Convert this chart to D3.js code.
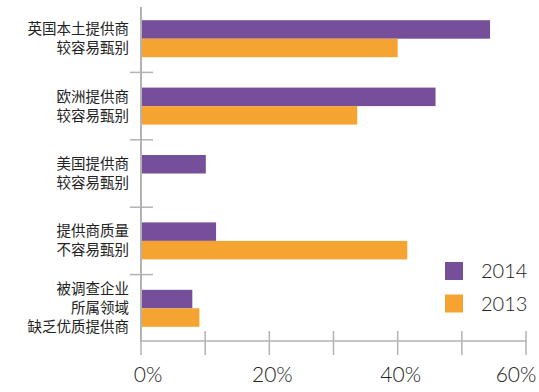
<!DOCTYPE html>
<html>
<head>
<meta charset="utf-8">
<script src="https://cdn.jsdelivr.net/npm/d3@7"></script>
<style>
  body { margin: 0; background: #fff; }
  .cat { font-family: "Noto Sans CJK SC", sans-serif; font-size: 14.5px; fill: #222; }
  .num { font-family: "Lato", "DejaVu Sans", sans-serif; font-weight: 300; fill: #222; }
</style>
</head>
<body>
<div id="chart"></div>
<script>
// chart data
const categories = [
  ["英国本土提供商", "较容易甄别"],
  ["欧洲提供商", "较容易甄别"],
  ["美国提供商", "较容易甄别"],
  ["提供商质量", "不容易甄别"],
  ["被调查企业", "所属领域", "缺乏优质提供商"]
];
const series = ["2014", "2013"];
const values2014 = [54.4, 45.9, 10.1, 11.7, 8.0];
const values2013 = [40.0, 33.7, 0, 41.5, 9.1];
const xTicks = [0, 10, 20, 30, 40, 50, 60];
const xLabels = [0, 20, 40, 60];

const svgWidth = 539;
const svgHeight = 392;
const colors = { "2014": "#764f9b", "2013": "#f5a432" };

const svg = d3.select("#chart")
  .append("svg")
  .attr("width", svgWidth)
  .attr("height", svgHeight);

const x = d3.scaleLinear().domain([0, 60]).range([141, 526]);

const y = d3.scaleBand()
  .domain(d3.range(categories.length))
  .range([5, 342])
  .padding(0);

// bars sit in the middle of each band, ~37px tall pair
const pairH = 37;
const ySeries = d3.scaleBand()
  .domain(series)
  .range([0, pairH]);

const rows = categories.map((c, i) => ({ i, "2014": values2014[i], "2013": values2013[i] }));

const groups = svg.append("g")
  .selectAll("g")
  .data(rows)
  .enter()
  .append("g")
  .attr("transform", d => `translate(0, ${y(d.i) + (y.bandwidth() - pairH) / 2})`);

groups.selectAll("rect")
  .data(d => series.map(s => ({ s, v: d[s] })))
  .enter()
  .append("rect")
  .attr("x", x(0))
  .attr("y", d => ySeries(d.s))
  .attr("width", d => x(d.v) - x(0))
  .attr("height", ySeries.bandwidth())
  .attr("fill", d => colors[d.s]);

// axes
const axisColor = "#b3b3b3";

svg.append("line")
  .attr("x1", x(0)).attr("x2", x(0))
  .attr("y1", 7).attr("y2", 342)
  .attr("stroke", axisColor)
  .attr("stroke-width", 2);

// category separators
svg.append("g")
  .selectAll("line")
  .data(d3.range(1, categories.length))
  .enter()
  .append("line")
  .attr("x1", x(0) - 11).attr("x2", x(0) + 12)
  .attr("y1", d => y(d)).attr("y2", d => y(d))
  .attr("stroke", axisColor)
  .attr("stroke-width", 1.5);

const bottomY = 341;
svg.append("line")
  .attr("x1", x(0)).attr("x2", x(60))
  .attr("y1", bottomY).attr("y2", bottomY)
  .attr("stroke", axisColor)
  .attr("stroke-width", 1.5);

svg.append("g")
  .selectAll("line")
  .data(xTicks)
  .enter()
  .append("line")
  .attr("x1", d => x(d)).attr("x2", d => x(d))
  .attr("y1", 331).attr("y2", 355)
  .attr("stroke", axisColor)
  .attr("stroke-width", 1.5);

// x tick labels (nudged like the original)
const labelNudge = [7, 3, 3, -10];
svg.append("g")
  .selectAll("text")
  .data(xLabels)
  .enter()
  .append("text")
  .attr("class", "num")
  .attr("x", (d, i) => x(d) + labelNudge[i])
  .attr("y", 382)
  .attr("text-anchor", "middle")
  .style("font-size", "21px")
  .text(d => d + "%");

// category labels
const lineH = 19;
const catLabels = svg.append("g")
  .selectAll("text")
  .data(categories)
  .enter()
  .append("text")
  .attr("class", "cat")
  .attr("text-anchor", "end")
  .attr("x", 129)
  .attr("y", (d, i) => y(i) + y.bandwidth() / 2 - (d.length - 1) * lineH / 2 + 5);

catLabels.selectAll("tspan")
  .data(d => d)
  .enter()
  .append("tspan")
  .attr("x", 129)
  .attr("dy", (d, i) => i === 0 ? 0 : lineH)
  .text(d => d);

// legend
const legend = svg.append("g")
  .selectAll("g")
  .data(series)
  .enter()
  .append("g")
  .attr("transform", (d, i) => `translate(445, ${262 + i * 32.5})`);

legend.append("rect")
  .attr("width", 18)
  .attr("height", 18)
  .attr("fill", d => colors[d]);

legend.append("text")
  .attr("class", "num")
  .attr("x", 36)
  .attr("y", 16)
  .style("font-size", "20px")
  .text(d => d);
</script>
</body>
</html>
